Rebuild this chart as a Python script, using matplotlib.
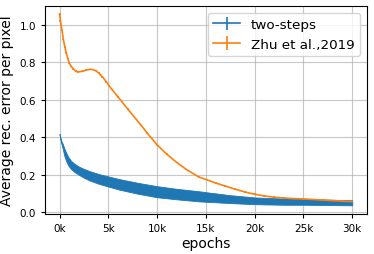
import numpy as np
import matplotlib
matplotlib.use('Agg')
import matplotlib.pyplot as plt
from matplotlib.ticker import FuncFormatter

# two-steps: band (epochs, upper, lower)
epochs_two = [0, 150, 340, 500, 680, 900, 1200, 1600, 2000, 2500, 3100, 4000,
              5000, 6100, 8000, 10000, 12000, 14300, 15000, 17500, 20000,
              23000, 25000, 30000]
two_upper = [0.418, 0.385, 0.364, 0.340, 0.319, 0.295, 0.274, 0.257, 0.244, 0.232, 0.220, 0.205,
             0.192, 0.178, 0.158, 0.140, 0.126, 0.113, 0.108, 0.092, 0.080,
             0.074, 0.072, 0.065]
two_lower = [0.418, 0.375, 0.337, 0.300, 0.274, 0.250, 0.230, 0.213, 0.200, 0.185, 0.170, 0.153,
             0.138, 0.122, 0.100, 0.081, 0.070, 0.059, 0.057, 0.050, 0.044,
             0.041, 0.041, 0.038]

# Zhu et al., 2019
epochs_zhu = [0, 100, 250, 400, 550, 700, 850, 1000, 1200, 1400, 1650, 1900,
              2150, 2400, 2750, 3100, 3400, 3700, 4000, 4400, 4800, 5300,
              6000, 7000, 8400, 9000, 10000, 11000, 12000, 13000, 14300,
              15000, 16000, 17000, 18000, 19000, 20000, 21000, 22000, 23000,
              24000, 25000, 26000, 27000, 28000, 29000, 30000]
zhu_err = [1.057, 1.020, 0.970, 0.920, 0.880, 0.848, 0.820, 0.795, 0.778, 0.765, 0.754, 0.749,
           0.750, 0.753, 0.758, 0.762, 0.761, 0.755, 0.744, 0.722, 0.696, 0.660,
           0.615, 0.550, 0.462, 0.422, 0.360, 0.310, 0.267, 0.229, 0.188,
           0.176, 0.157, 0.140, 0.124, 0.109, 0.097, 0.088, 0.081, 0.077,
           0.074, 0.072, 0.069, 0.066, 0.063, 0.060, 0.058]

fig = plt.figure(figsize=(3.74, 2.55), dpi=100)
ax = fig.add_axes([0.12, 0.157, 0.861, 0.816])

# band of the two-steps curve, with an errorbar handle for the legend
ax.fill_between(epochs_two, two_lower, two_upper, color='C0', lw=0.6, zorder=2)
ax.errorbar([], [], yerr=[], color='C0', lw=1.2, label='two-steps')
ax.errorbar(epochs_zhu, zhu_err, yerr=0.004, color='C1', lw=1.2,
            label='Zhu et al.,2019', zorder=3)

ax.set_ylim(-0.008, 1.10)
ax.set_xticks([0, 5000, 10000, 15000, 20000, 25000, 30000])
ax.xaxis.set_major_formatter(FuncFormatter(lambda v, p: f'{int(v / 1000)}k'))
ax.set_yticks([0.0, 0.2, 0.4, 0.6, 0.8, 1.0])
ax.tick_params(labelsize=7.5, length=3)
ax.grid(True, color='#b0b0b0', lw=0.8, alpha=0.7)
ax.set_axisbelow(True)
ax.set_xlabel('epochs', fontsize=10, labelpad=2)
ax.set_ylabel('Average rec. error per pixel', fontsize=10, labelpad=4)
ax.legend(loc='upper right', fontsize=9.7)

fig.savefig('out.png', dpi=100)
